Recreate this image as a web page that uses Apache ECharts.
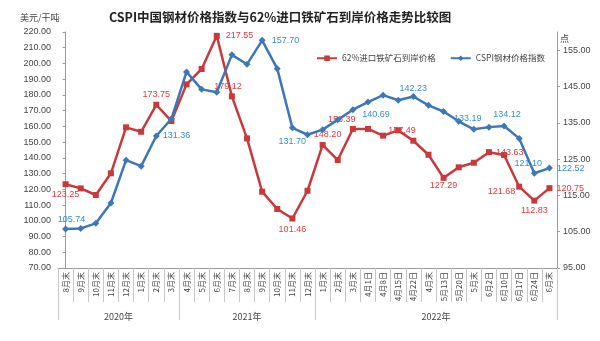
<!DOCTYPE html>
<html>
<head>
<meta charset="utf-8">
<script src="https://cdn.jsdelivr.net/npm/echarts@6/dist/echarts.min.js"></script>
<style>
  html, body { margin: 0; padding: 0; background: #fff; }
  #chart { width: 600px; height: 341px; }
</style>
</head>
<body>
<div id="chart"></div>
<script>
// Category labels along the time axis
const categories = ['8月末','9月末','10月末','11月末','12月末','1月末','2月末','3月末',
  '4月末','5月末','6月末','7月末','8月末','9月末','10月末','11月末','12月末',
  '1月末','2月末','3月末','4月1日','4月8日','4月15日','4月22日','4月末','5月13日',
  '5月20日','5月末','6月2日','6月10日','6月17日','6月24日','6月末'];

// Year groups under the category labels
const yearNames = ['2020年', '2021年', '2022年'];
const yearSizes = [8, 9, 16];

// 62% imported iron ore CIF price (USD / dry tonne), left axis
const oreValues = [123.25, 120.6, 116.4, 130.2, 159.4, 156.6, 173.75, 163.4,
  186.7, 196.5, 217.55, 179.12, 152.4, 118.5, 107.5, 101.46, 119.1,
  148.20, 138.6, 158.39, 158.4, 154.1, 157.49, 150.9, 142.0, 127.29,
  134.0, 136.9, 143.63, 141.8, 121.68, 112.83, 120.75];

// CSPI steel price index (points), right axis
const cspiValues = [105.74, 105.9, 107.3, 112.9, 124.7, 123.05, 131.36, 136.1,
  149.0, 144.2, 143.4, 153.7, 151.1, 157.70, 149.9, 133.6, 131.70,
  133.1, 135.8, 138.6, 140.69, 142.6, 141.2, 142.23, 139.8, 138.1,
  135.4, 133.19, 133.8, 134.12, 130.7, 121.10, 122.52];

const oreName = '62%进口铁矿石到岸价格';
const cspiName = 'CSPI钢材价格指数';

// Which points carry a value label, and where the label sits
const oreLabelSpots = {
  0: { position: 'bottom', distance: 3 },
  6: { position: 'top', distance: 3 },
  10: { position: 'right', distance: 6 },
  11: { position: 'top', distance: 2, offset: [-4, 0] },
  15: { position: 'bottom', distance: 4 },
  17: { position: 'top', distance: 3, offset: [5, 0] },
  19: { position: 'top', distance: 2, offset: [-11, 0] },
  22: { position: 'right', distance: 0, offset: [-13, 0] },
  25: { position: 'bottom', distance: 0 },
  28: { position: 'right', distance: 4 },
  30: { position: 'left', distance: 1, offset: [0, 5] },
  31: { position: 'bottom', distance: 2 },
  32: { position: 'right', distance: 4 }
};
const cspiLabelSpots = {
  0: { position: 'top', distance: 1, offset: [6, 0] },
  6: { position: 'right', distance: 3 },
  13: { position: 'right', distance: 6 },
  16: { position: 'left', distance: 0, offset: [2, 7] },
  20: { position: 'bottom', distance: 4, offset: [8, 0] },
  23: { position: 'top', distance: 0 },
  27: { position: 'top', distance: 3, offset: [-6, 0] },
  29: { position: 'top', distance: 3, offset: [3, 0] },
  31: { position: 'top', distance: 2, offset: [-6, 0] },
  32: { position: 'right', distance: 4 }
};

const numFont = '"Liberation Sans", "Noto Sans CJK SC", sans-serif';
const cjkFont = '"Noto Sans CJK SC", "Liberation Sans", sans-serif';

function buildData(values, spots, color) {
  return values.map((v, i) => {
    const s = spots[i];
    if (!s) return v;
    return {
      value: v,
      label: Object.assign({
        show: true,
        color: color,
        fontSize: 9,
        fontFamily: numFont,
        formatter: p => Number(p.value).toFixed(2)
      }, s)
    };
  });
}

// Group boundaries and centers on a value scale aligned with the categories
const groupEdges = [-0.5];
const groupCenters = [];
yearSizes.forEach(n => {
  const start = groupEdges[groupEdges.length - 1];
  groupCenters.push(start + n / 2);
  groupEdges.push(start + n);
});

const chart = echarts.init(document.getElementById('chart'));
chart.setOption({
  backgroundColor: '#fff',
  animation: false,
  title: {
    text: 'CSPI中国钢材价格指数与62%进口铁矿石到岸价格走势比较图',
    left: 104,
    top: 6,
    textStyle: { fontSize: 12.5, fontWeight: 'bold', color: '#222', fontFamily: cjkFont }
  },
  legend: {
    top: 49,
    left: 311,
    itemWidth: 20,
    itemHeight: 7,
    itemGap: 14,
    textStyle: { fontSize: 8.5, color: '#444', fontFamily: cjkFont },
    data: [oreName, cspiName]
  },
  grid: { left: 58, right: 43, top: 32, bottom: 73 },
  xAxis: [
    {
      type: 'category',
      data: categories,
      position: 'bottom',
      boundaryGap: true,
      axisLine: { lineStyle: { color: '#9a9a9a', width: 1 } },
      axisTick: { show: true, length: 34, interval: 0, lineStyle: { color: '#c8c8c8' } },
      axisLabel: {
        interval: 0, rotate: 90, margin: 4, fontSize: 8, color: '#444',
        fontFamily: cjkFont
      }
    },
    {
      type: 'value',
      position: 'bottom',
      min: -0.5,
      max: -0.5 + categories.length,
      axisLine: { show: false },
      splitLine: { show: false },
      axisTick: { show: true, length: 52, customValues: groupEdges, lineStyle: { color: '#c8c8c8' } },
      axisLabel: {
        customValues: groupCenters,
        margin: 44,
        fontSize: 9,
        color: '#444',
        fontFamily: cjkFont,
        formatter: v => yearNames[groupCenters.indexOf(v)] || ''
      }
    }
  ],
  yAxis: [
    {
      type: 'value',
      name: '美元/干吨',
      nameLocation: 'end',
      nameGap: 10,
      nameTextStyle: { fontSize: 9, color: '#444', fontFamily: cjkFont, align: 'right', padding: [0, 6, 0, 0] },
      min: 70, max: 220, interval: 10,
      axisLine: { show: true, lineStyle: { color: '#9a9a9a' } },
      axisTick: { show: true, length: 3, lineStyle: { color: '#9a9a9a' } },
      splitLine: { show: false },
      axisLabel: { fontSize: 9, color: '#444', margin: 7, fontFamily: numFont, formatter: v => v.toFixed(2) }
    },
    {
      type: 'value',
      name: '点',
      nameLocation: 'end',
      nameGap: 3,
      nameRotate: 0,
      nameTextStyle: {
        fontSize: 9, color: '#444', fontFamily: cjkFont,
        align: 'left', verticalAlign: 'top', padding: [5, 0, 0, 3]
      },
      min: 95, max: 160,
      position: 'right',
      axisLine: { show: true, lineStyle: { color: '#9a9a9a' } },
      axisTick: { show: true, length: 3, inside: false, customValues: [95, 105, 115, 125, 135, 145, 155], lineStyle: { color: '#9a9a9a' } },
      splitLine: { show: false },
      axisLabel: {
        customValues: [95, 105, 115, 125, 135, 145, 155],
        fontSize: 9, color: '#444', margin: 6, fontFamily: numFont,
        formatter: v => v.toFixed(2)
      }
    }
  ],
  series: [
    {
      name: oreName,
      type: 'line',
      xAxisIndex: 0,
      yAxisIndex: 0,
      data: buildData(oreValues, oreLabelSpots, '#e23a3c'),
      symbol: 'rect',
      symbolSize: 6,
      lineStyle: { color: '#c9393b', width: 2.5 },
      itemStyle: { color: '#c9393b' },
      z: 2
    },
    {
      name: cspiName,
      type: 'line',
      xAxisIndex: 0,
      yAxisIndex: 1,
      data: buildData(cspiValues, cspiLabelSpots, '#3a8cd2'),
      symbol: 'diamond',
      symbolSize: 7,
      lineStyle: { color: '#3d77b7', width: 2.5 },
      itemStyle: { color: '#3d77b7' },
      z: 3
    }
  ]
});
</script>
</body>
</html>
